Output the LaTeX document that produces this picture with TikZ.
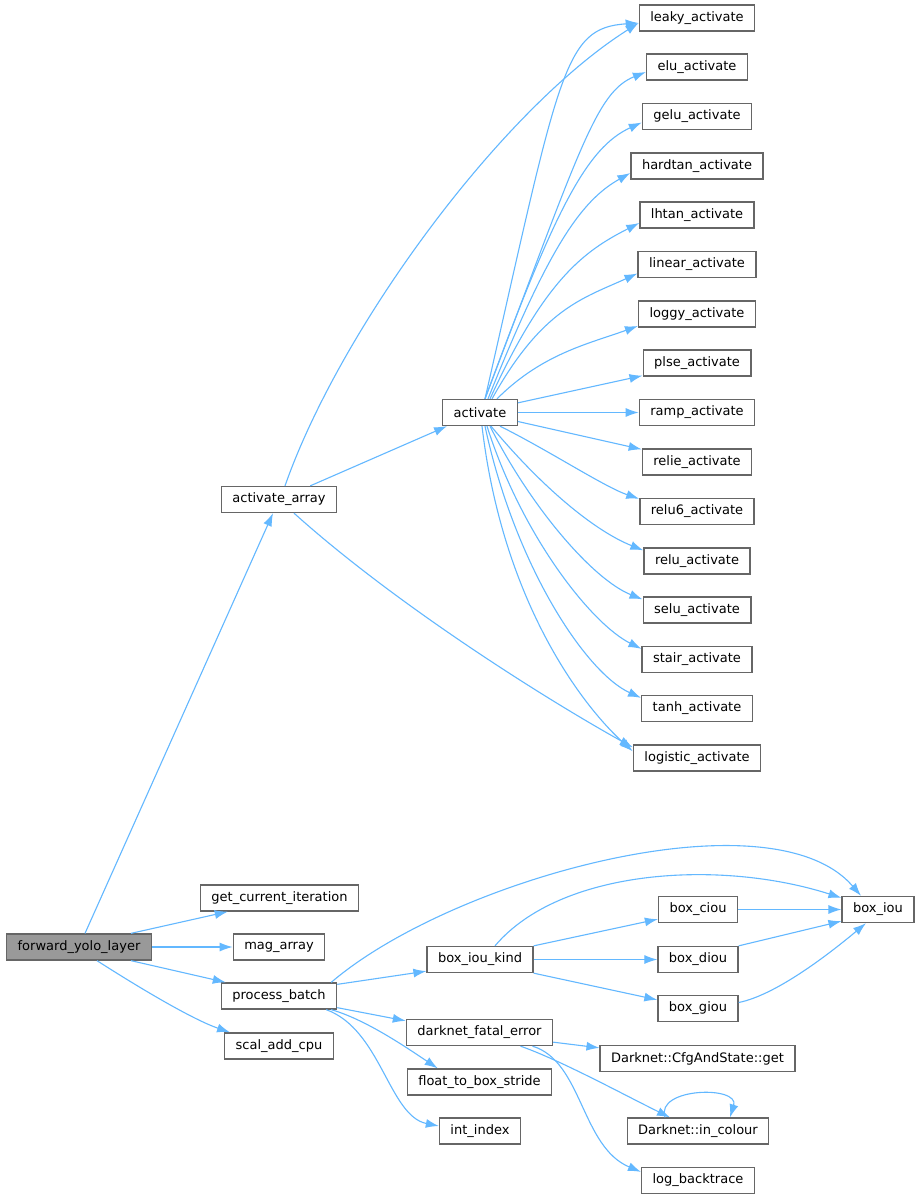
\documentclass[tikz,border=0pt]{standalone}
\usepackage{fontspec}
\newfontfamily\dejavu{DejaVu Sans}
\usetikzlibrary{arrows.meta}
\definecolor{callblue}{HTML}{63B8FF}
\definecolor{boxgray}{HTML}{666666}
\definecolor{rootgray}{HTML}{999999}

\begin{document}
\begin{tikzpicture}[>={Latex[length=13pt,width=9pt]},x=1pt,y=-1pt]
		\tikzstyle{fn}=[draw=boxgray,line width=1.3pt,fill=white,inner xsep=11pt,inner ysep=0pt,minimum height=26pt,font=\dejavu\fontsize{13}{15}\selectfont];
		\tikzstyle{call}=[->,callblue,line width=1.1pt];
		\path[use as bounding box,fill=white] (0,0) rectangle (920,1199);

		\node[fn,fill=rootgray] (fwd) at (79,947) {forward\_yolo\_layer};
		\node[fn] (curiter) at (279.5,898) {get\_current\_iteration};
		\node[fn] (mag) at (279,947) {mag\_array};
		\node[fn] (batch) at (279,996) {process\_batch};
		\node[fn] (scal) at (279,1046) {scal\_add\_cpu};
		\node[fn] (actarr) at (279,499.5) {activate\_array};
		\node[fn] (act) at (480,412.5) {activate};
		\foreach \n/\y in {leaky/18,elu/67,gelu/116.5,hardtan/166,lhtan/215,linear/264.5,loggy/314,plse/363,ramp/412.5,relie/462,relu6/511.5,relu/561,selu/610,stair/659.5,tanh/708.5,logistic/758}
			\node[fn] (\n) at (697,\y) {\n\_activate};

		\node[fn] (iou) at (878,909.5) {box\_iou};
		\node[fn] (ciou) at (698,909.5) {box\_ciou};
		\node[fn] (ioukind) at (480,959.5) {box\_iou\_kind};
		\node[fn] (diou) at (698,959.5) {box\_diou};
		\node[fn] (giou) at (698,1008.5) {box\_giou};
		\node[fn] (fatal) at (479.5,1032.5) {darknet\_fatal\_error};
		\node[fn] (cfgget) at (697.5,1058.5) {Darknet::CfgAndState::get};
		\node[fn] (stride) at (479.5,1082) {float\_to\_box\_stride};
		\node[fn] (colour) at (698,1131) {Darknet::in\_colour};
		\node[fn] (intidx) at (480,1131) {int\_index};
		\node[fn] (backtr) at (698,1180.5) {log\_backtrace};

		% calls of forward_yolo_layer
		\draw[call] ([xshift=6pt]fwd.north) -- ([xshift=-6pt]actarr.south);
		\draw[call] ([xshift=-21pt]fwd.north east) -- ([xshift=28pt]curiter.south west);
		\draw[call] (fwd) -- (mag);
		\draw[call] ([xshift=-21pt]fwd.south east) -- ([xshift=5pt]batch.north west);
		\draw[call] ([xshift=18pt]fwd.south) .. controls +(50,32) and +(-35,-12) .. ([xshift=6pt]scal.north west);

		% activate_array
		\draw[call] ([xshift=-27pt]actarr.north east) -- ([xshift=5pt]act.south west);
		\draw[call] ([xshift=6pt]actarr.north) .. controls +(55,-157) and +(-138,87) .. ([yshift=-5pt]leaky.west);
		\draw[call] ([xshift=15pt]actarr.south) .. controls +(100,90) and +(-90,-50) .. ([yshift=-3pt]logistic.north west);

		% activate
		\draw[call] ([xshift=5pt]act.north) .. controls +(75,-330) and +(-75,5) .. ([yshift=-5pt]leaky.west);
		\draw[call] ([xshift=5pt]act.north) .. controls +(95,-250) and +(-50,20) .. ([yshift=-5pt]elu.west);
		\draw[call] ([xshift=5pt]act.north) .. controls +(70,-190) and +(-55,25) .. ([yshift=-6pt]gelu.west);
		\draw[call] ([xshift=8pt]act.north) .. controls +(60,-150) and +(-50,28) .. ([yshift=-7pt]hardtan.west);
		\draw[call] ([xshift=10pt]act.north) .. controls +(55,-120) and +(-55,28) .. ([yshift=-8pt]lhtan.west);
		\draw[call] ([xshift=12pt]act.north) .. controls +(50,-90) and +(-55,25) .. ([yshift=-9pt]linear.west);
		\draw[call] ([xshift=17pt]act.north) .. controls +(45,-45) and +(-50,18) .. ([yshift=-12pt]loggy.west);
		\draw[call] ([yshift=-4pt]act.north east) -- ([yshift=1pt]plse.south west);
		\draw[call] (act) -- (ramp);
		\draw[call] ([yshift=-9pt]act.east) -- ([yshift=-1pt]relie.north west);
		\draw[call] ([xshift=20pt]act.south) .. controls +(50,25) and +(-35,-12) .. ([yshift=-1pt]relu6.north west);
		\draw[call] ([xshift=11pt]act.south) .. controls +(50,60) and +(-50,-20) .. ([yshift=-3pt]relu.north west);
		\draw[call] ([xshift=10pt]act.south) .. controls +(40,80) and +(-50,-20) .. ([yshift=-3pt]selu.north west);
		\draw[call] ([xshift=7pt]act.south) .. controls +(35,110) and +(-50,-25) .. ([yshift=-3pt]stair.north west);
		\draw[call] ([xshift=5pt]act.south) .. controls +(30,140) and +(-55,-25) .. ([yshift=-3pt]tanh.north west);
		\draw[call] ([xshift=2pt]act.south) .. controls +(20,170) and +(-55,-50) .. ([yshift=-7pt]logistic.north west);

		% process_batch
		\draw[call] ([yshift=-2pt]batch.north east) -- ([yshift=2pt]ioukind.south west);
		\draw[call] ([xshift=-6pt]batch.north east) .. controls +(120,-103) and +(-90,-105) .. ([xshift=-17pt]iou.north);
		\draw[call] ([yshift=2pt]batch.south east) -- ([yshift=-2pt]fatal.north west);
		\draw[call] ([xshift=-6pt]batch.south east) .. controls +(35,10) and +(-30,-20) .. ([xshift=31pt]stride.north west);
		\draw[call] ([xshift=-11pt]batch.south east) .. controls +(55,20) and +(-50,-10) .. ([yshift=5pt]intidx.west);

		% box_iou_kind
		\draw[call] ([xshift=15pt]ioukind.north) .. controls +(65,-77) and +(-122,-39) .. ([yshift=-2pt]iou.north west);
		\draw[call] (ioukind.north east) -- ([yshift=4pt]ciou.south west);
		\draw[call] (ioukind) -- (diou);
		\draw[call] (ioukind.south east) -- ([yshift=-5pt]giou.north west);
		\draw[call] (ciou) -- (iou);
		\draw[call] (diou.north east) -- ([yshift=2pt]iou.south west);
		\draw[call] ([yshift=6pt]giou.east) .. controls +(40,-8) and +(-30,25) .. ([xshift=-12pt]iou.south);

		% darknet_fatal_error
		\draw[call] ([yshift=4pt]fatal.south east) -- ([yshift=-3pt]cfgget.north west);
		\draw[call] ([xshift=41pt]fatal.south) .. controls +(40,14) and +(-45,-22) .. ([xshift=-28pt]colour.north);
		\draw[call] ([xshift=53pt]fatal.south) .. controls +(50,15) and +(-60,-25) .. ([yshift=-5pt]backtr.north west);
		\draw[call] ([xshift=-33pt]colour.north) .. controls +(-10,-30) and +(10,-32) .. ([xshift=32pt]colour.north);
	\end{tikzpicture}
\end{document}
